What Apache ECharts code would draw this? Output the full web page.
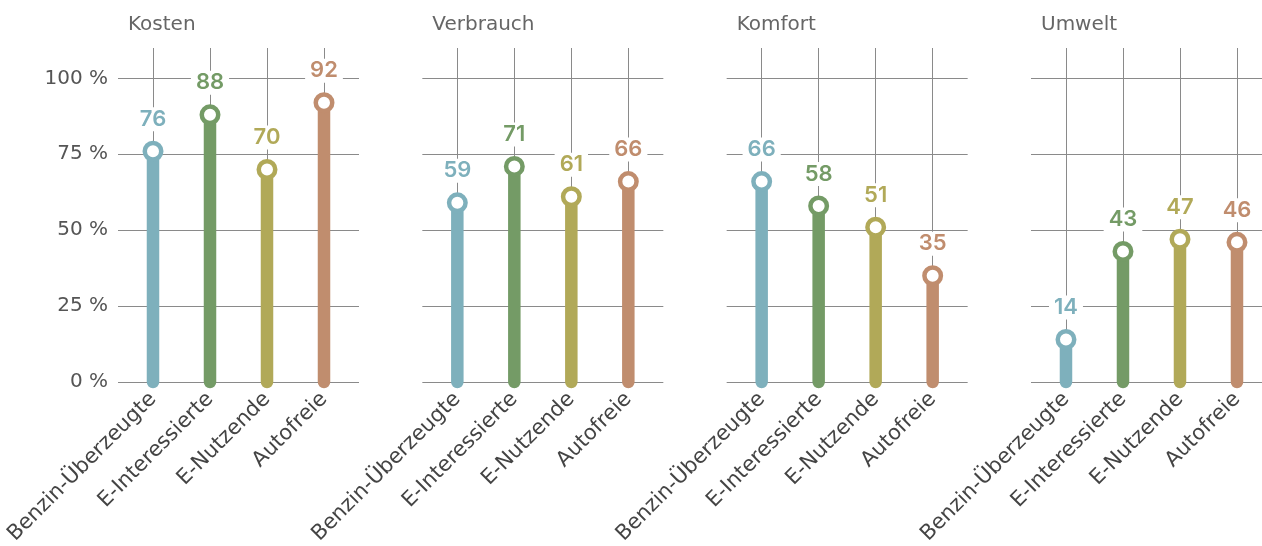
<!DOCTYPE html>
<html><head><meta charset="utf-8">
<script src="https://cdn.jsdelivr.net/npm/echarts@6/dist/echarts.min.js"></script>
<style>html,body{margin:0;padding:0;background:#fff}#c{width:1262px;height:546px}</style>
</head><body><div id="c"></div>
<script>
const categories = ['Benzin-Überzeugte', 'E-Interessierte', 'E-Nutzende', 'Autofreie'];
const panelTitles = ['Kosten', 'Verbrauch', 'Komfort', 'Umwelt'];
const kosten = [76, 88, 70, 92];
const verbrauch = [59, 71, 61, 66];
const komfort = [66, 58, 51, 35];
const umwelt = [14, 43, 47, 46];
const yTicks = [0, 25, 50, 75, 100];
const colors = ['#7eb0bc', '#749b66', '#b1a958', '#c08d6e'];

const panelValues = [kosten, verbrauch, komfort, umwelt];
const FONT = '"DejaVu Sans", sans-serif';
const LABEL_FONT = 'Inter, "DejaVu Sans", sans-serif';
const GRID_COLOR = '#8a8a8a';
const PANEL_STEP = 304.33;
const CAT_STEP = 57;
const FIRST_CAT = 153;
const PAD = 35;
const TOP = 48, ZERO = 382;

const grids = [], xAxes = [], yAxes = [], series = [], titles = [];
panelValues.forEach((vals, p) => {
  const c0 = FIRST_CAT + p * PANEL_STEP;
  grids.push({left: c0 - PAD, top: TOP, width: 3 * CAT_STEP + 2 * PAD, height: ZERO - TOP,
    containLabel: false, outerBoundsMode: 'none'});
  grids.push({left: c0, top: TOP, width: 3 * CAT_STEP, height: ZERO - TOP,
    containLabel: false, outerBoundsMode: 'none'});
  const gA = 2 * p, gB = 2 * p + 1;
  xAxes.push({gridIndex: gA, type: 'value', min: 0, max: 1, show: false});
  xAxes.push({
    gridIndex: gB, type: 'category', data: categories, boundaryGap: false,
    axisLine: {show: false}, axisTick: {show: false},
    splitLine: {show: true, lineStyle: {color: GRID_COLOR, width: 1}},
    axisLabel: {rotate: 45, margin: 14, fontSize: 21, color: '#444', fontFamily: FONT, interval: 0}
  });
  yAxes.push({
    gridIndex: gA, type: 'value', min: 0, max: 110, interval: 25,
    axisLine: {show: false}, axisTick: {show: false},
    splitLine: {show: true, showMaxLine: false, lineStyle: {color: GRID_COLOR, width: 1}},
    axisLabel: {show: p === 0, showMaxLabel: false, margin: 10, fontSize: 20, color: '#555', fontFamily: FONT,
      formatter: v => yTicks.includes(v) ? v + ' %' : ''}
  });
  yAxes.push({gridIndex: gB, type: 'value', min: 0, max: 110, show: false, splitLine: {show: false}});
  const xi = 2 * p + 1, yi = 2 * p + 1;
  series.push({
    type: 'custom', xAxisIndex: xi, yAxisIndex: yi, z: 2,
    data: vals.map((v, i) => [i, v]),
    renderItem: (params, api) => {
      const i = api.value(0), v = api.value(1);
      const a = api.coord([i, 0]), b = api.coord([i, v]);
      return {type: 'line', shape: {x1: a[0], y1: a[1], x2: b[0], y2: b[1]},
        style: {stroke: colors[i], lineWidth: 12.5, lineCap: 'round'}};
    }
  });
  series.push({
    type: 'scatter', xAxisIndex: xi, yAxisIndex: yi, z: 3,
    symbol: 'circle', symbolSize: 16.5,
    itemStyle: {opacity: 1},
    data: vals.map((v, i) => ({
      value: [i, v],
      itemStyle: {color: '#fff', borderColor: colors[i], borderWidth: 4.5, opacity: 1},
      label: {color: colors[i]}
    })),
    label: {
      show: true, position: 'inside', offset: [0, -32],
      formatter: d => String(d.value[1]),
      fontSize: 22, fontWeight: 600, fontFamily: LABEL_FONT, lineHeight: 22,
      backgroundColor: '#fff', padding: [1, 5, 1, 5]
    },
    emphasis: {disabled: true}
  });
  titles.push({text: panelTitles[p], left: c0 - 30, top: 10,
    textStyle: {fontSize: 20, fontWeight: 'normal', color: '#666', fontFamily: FONT}});
});

const chart = echarts.init(document.getElementById('c'), null, {renderer: 'canvas'});
chart.setOption({
  animation: false,
  title: titles,
  grid: grids,
  xAxis: xAxes,
  yAxis: yAxes,
  series: series
});
</script></body></html>
